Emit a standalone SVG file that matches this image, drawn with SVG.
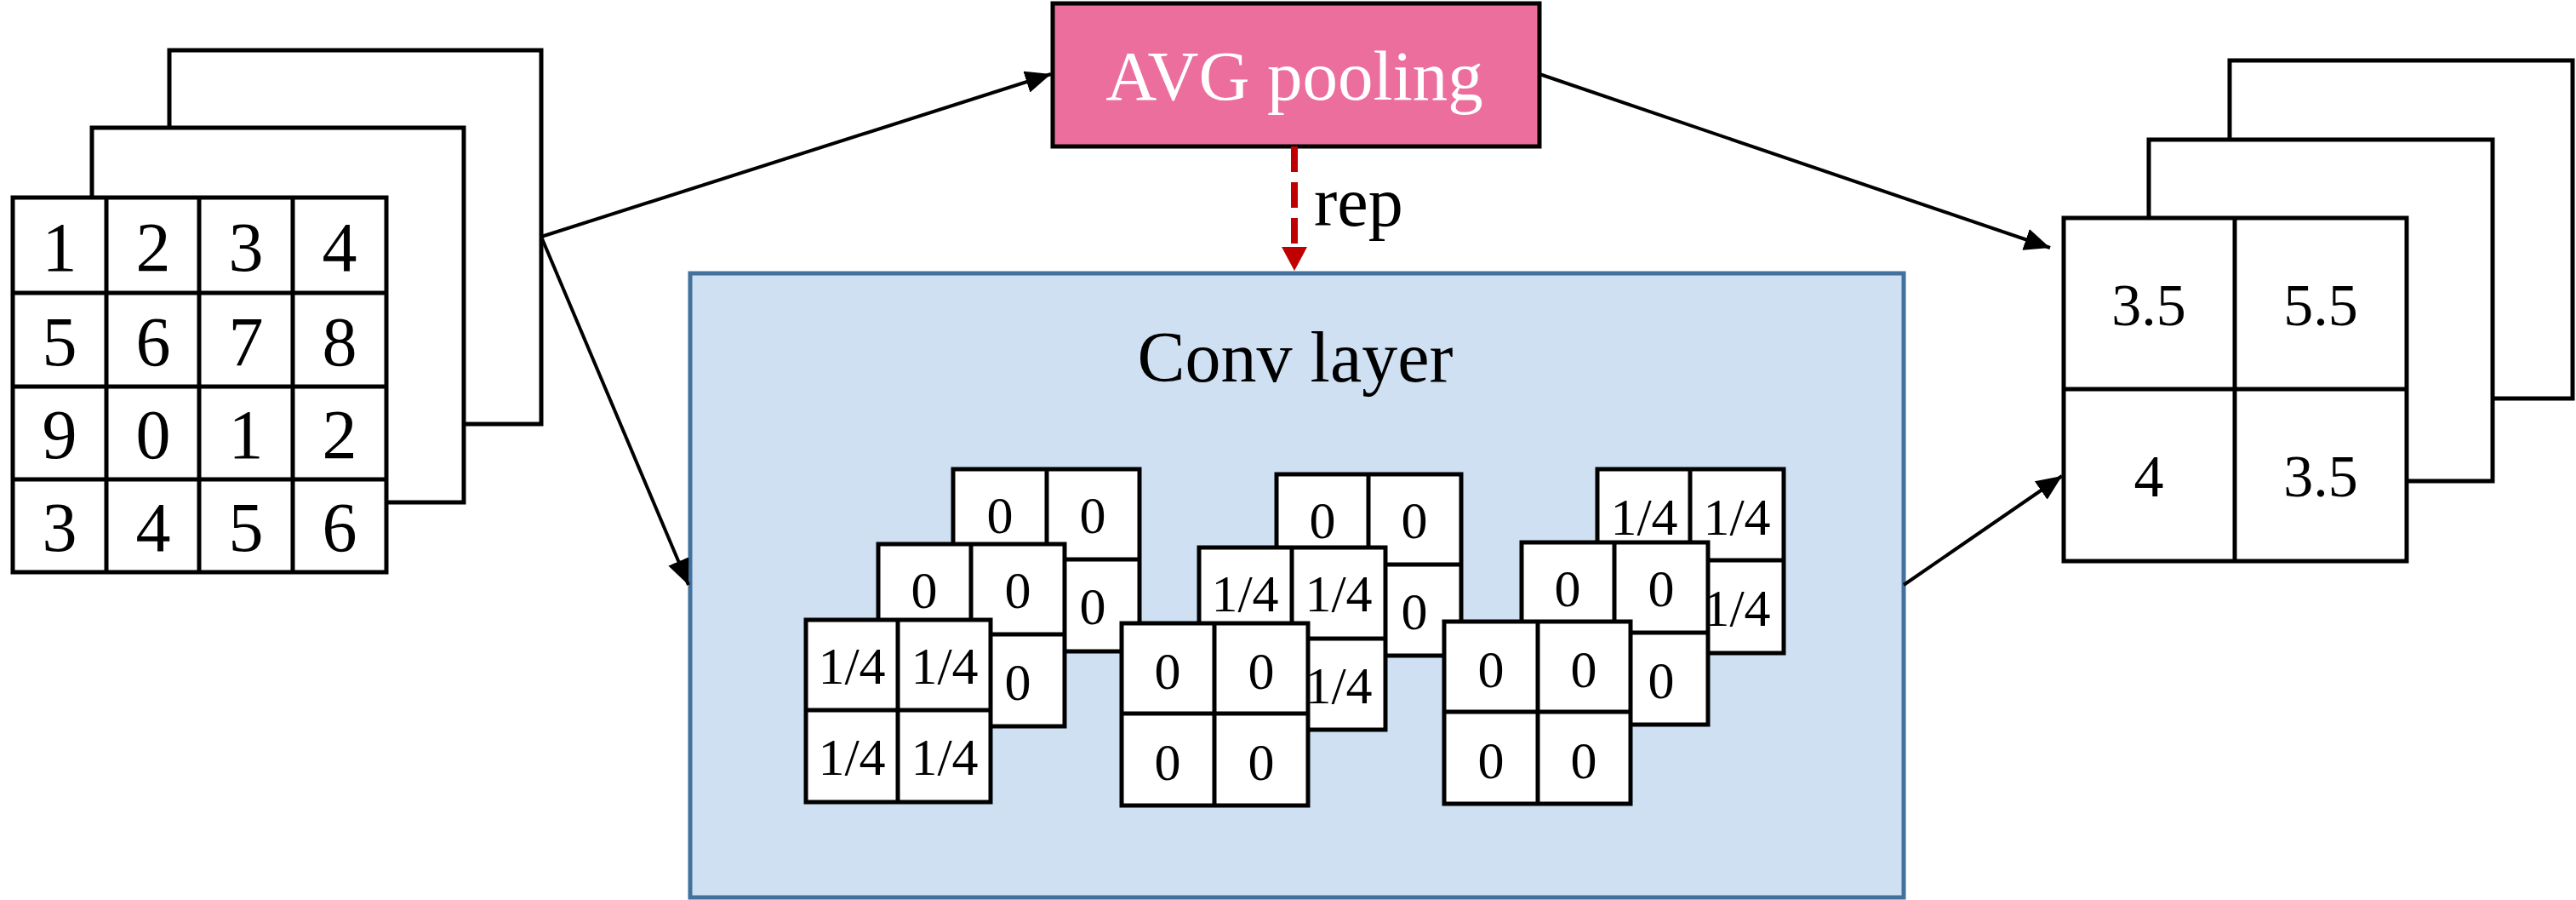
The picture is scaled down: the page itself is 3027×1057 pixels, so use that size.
<svg xmlns="http://www.w3.org/2000/svg" width="3027" height="1057" viewBox="0 0 3027 1057">
<style>
.cell{fill:#ffffff;stroke:#000000;stroke-width:5}
.ln{stroke:#000000;stroke-width:5;fill:none}
.big{font-family:"Liberation Serif","Times New Roman",serif;font-size:82px;fill:#000000;text-anchor:middle}
.mid{font-family:"Liberation Serif","Times New Roman",serif;font-size:70px;fill:#000000;text-anchor:middle}
.sm{font-family:"Liberation Serif","Times New Roman",serif;font-size:62px;fill:#000000;text-anchor:middle}
.conn{stroke:#000000;stroke-width:4;fill:none}
</style>
<defs>
<marker id="ah" markerUnits="userSpaceOnUse" markerWidth="32" markerHeight="26" refX="30" refY="13" orient="auto">
<path d="M0,0 L30,13 L0,26 Z" fill="#000000"/>
</marker>
</defs>
<rect width="3027" height="1057" fill="#ffffff"/>

<g id="input-stack">
<rect class="cell" x="199" y="59" width="437" height="439"/>
<rect class="cell" x="108" y="150" width="437" height="440"/>
<rect class="cell" x="15" y="232" width="439" height="440"/>
<line class="ln" x1="125" y1="232" x2="125" y2="672"/>
<line class="ln" x1="234" y1="232" x2="234" y2="672"/>
<line class="ln" x1="344" y1="232" x2="344" y2="672"/>
<line class="ln" x1="15" y1="344" x2="454" y2="344"/>
<line class="ln" x1="15" y1="454" x2="454" y2="454"/>
<line class="ln" x1="15" y1="563" x2="454" y2="563"/>
<text class="big" x="70" y="318">1</text>
<text class="big" x="180" y="318">2</text>
<text class="big" x="289" y="318">3</text>
<text class="big" x="399" y="318">4</text>
<text class="big" x="70" y="429">5</text>
<text class="big" x="180" y="429">6</text>
<text class="big" x="289" y="429">7</text>
<text class="big" x="399" y="429">8</text>
<text class="big" x="70" y="538">9</text>
<text class="big" x="180" y="538">0</text>
<text class="big" x="289" y="538">1</text>
<text class="big" x="399" y="538">2</text>
<text class="big" x="70" y="647">3</text>
<text class="big" x="180" y="647">4</text>
<text class="big" x="289" y="647">5</text>
<text class="big" x="399" y="647">6</text>
</g>

<g id="avg-pooling">
<rect x="1237" y="4" width="572" height="168" fill="#EC6E9C" stroke="#000000" stroke-width="5"/>
<text x="1521" y="117" font-family="'Liberation Serif','Times New Roman',serif" font-size="83" fill="#ffffff" text-anchor="middle">AVG pooling</text>
</g>

<g id="conv-layer">
<rect x="811" y="321" width="1426" height="733" fill="#CEE0F2" stroke="#41719C" stroke-width="5"/>
<text x="1522" y="448" font-family="'Liberation Serif','Times New Roman',serif" font-size="84" fill="#000000" text-anchor="middle">Conv layer</text>
</g>

<g id="kernel-1">
<rect class="cell" x="1120" y="551" width="219" height="214"/>
<line class="ln" x1="1230" y1="551" x2="1230" y2="765"/>
<line class="ln" x1="1120" y1="657" x2="1339" y2="657"/>
<text class="sm" x="1175" y="626">0</text>
<text class="sm" x="1284" y="626">0</text>
<text class="sm" x="1284" y="733">0</text>
<rect class="cell" x="1032" y="639" width="219" height="214"/>
<line class="ln" x1="1141" y1="639" x2="1141" y2="853"/>
<line class="ln" x1="1032" y1="745" x2="1251" y2="745"/>
<text class="sm" x="1086" y="714">0</text>
<text class="sm" x="1196" y="714">0</text>
<text class="sm" x="1196" y="822">0</text>
<rect class="cell" x="947" y="728" width="217" height="214"/>
<line class="ln" x1="1055" y1="728" x2="1055" y2="942"/>
<line class="ln" x1="947" y1="834" x2="1164" y2="834"/>
<text class="sm" x="1001" y="803">1/4</text>
<text class="sm" x="1110" y="803">1/4</text>
<text class="sm" x="1001" y="910">1/4</text>
<text class="sm" x="1110" y="910">1/4</text>
</g>

<g id="kernel-2">
<rect class="cell" x="1500" y="557" width="217" height="213"/>
<line class="ln" x1="1608" y1="557" x2="1608" y2="770"/>
<line class="ln" x1="1500" y1="663" x2="1717" y2="663"/>
<text class="sm" x="1554" y="632">0</text>
<text class="sm" x="1662" y="632">0</text>
<text class="sm" x="1662" y="739">0</text>
<rect class="cell" x="1409" y="643" width="219" height="214"/>
<line class="ln" x1="1518" y1="643" x2="1518" y2="857"/>
<line class="ln" x1="1409" y1="750" x2="1628" y2="750"/>
<text class="sm" x="1463" y="718">1/4</text>
<text class="sm" x="1573" y="718">1/4</text>
<text class="sm" x="1573" y="826">1/4</text>
<rect class="cell" x="1318" y="732" width="219" height="214"/>
<line class="ln" x1="1427" y1="732" x2="1427" y2="946"/>
<line class="ln" x1="1318" y1="838" x2="1537" y2="838"/>
<text class="sm" x="1372" y="809">0</text>
<text class="sm" x="1482" y="809">0</text>
<text class="sm" x="1372" y="916">0</text>
<text class="sm" x="1482" y="916">0</text>
</g>

<g id="kernel-3">
<rect class="cell" x="1877" y="551" width="219" height="216"/>
<line class="ln" x1="1986" y1="551" x2="1986" y2="767"/>
<line class="ln" x1="1877" y1="658" x2="2096" y2="658"/>
<text class="sm" x="1932" y="628">1/4</text>
<text class="sm" x="2041" y="628">1/4</text>
<text class="sm" x="2041" y="735">1/4</text>
<rect class="cell" x="1788" y="637" width="219" height="214"/>
<line class="ln" x1="1897" y1="637" x2="1897" y2="851"/>
<line class="ln" x1="1788" y1="743" x2="2007" y2="743"/>
<text class="sm" x="1842" y="712">0</text>
<text class="sm" x="1952" y="712">0</text>
<text class="sm" x="1952" y="820">0</text>
<rect class="cell" x="1697" y="730" width="219" height="214"/>
<line class="ln" x1="1807" y1="730" x2="1807" y2="944"/>
<line class="ln" x1="1697" y1="836" x2="1916" y2="836"/>
<text class="sm" x="1752" y="807">0</text>
<text class="sm" x="1861" y="807">0</text>
<text class="sm" x="1752" y="914">0</text>
<text class="sm" x="1861" y="914">0</text>
</g>

<g id="output-stack">
<rect class="cell" x="2620" y="71" width="403" height="397"/>
<rect class="cell" x="2525" y="164" width="404" height="401"/>
<rect class="cell" x="2425" y="256" width="403" height="403"/>
<line class="ln" x1="2626" y1="256" x2="2626" y2="659"/>
<line class="ln" x1="2425" y1="457" x2="2828" y2="457"/>
<text class="mid" x="2525" y="382">3.5</text>
<text class="mid" x="2727" y="382">5.5</text>
<text class="mid" x="2525" y="583">4</text>
<text class="mid" x="2727" y="583">3.5</text>
</g>

<g id="connectors">
<line class="conn" x1="636" y1="278" x2="1235" y2="87" marker-end="url(#ah)"/>
<line class="conn" x1="636" y1="278" x2="809" y2="687" marker-end="url(#ah)"/>
<line class="conn" x1="1809" y1="87" x2="2409" y2="291" marker-end="url(#ah)"/>
<line class="conn" x1="2237" y1="687" x2="2423" y2="559" marker-end="url(#ah)"/>
<line x1="1521" y1="172" x2="1521" y2="288" stroke="#C00000" stroke-width="8" stroke-dasharray="30 12"/>
<polygon points="1506,290 1536,290 1521,318" fill="#C00000"/>
<text x="1544" y="265" font-family="'Liberation Serif','Times New Roman',serif" font-size="82" fill="#000000">rep</text>
</g>
</svg>
